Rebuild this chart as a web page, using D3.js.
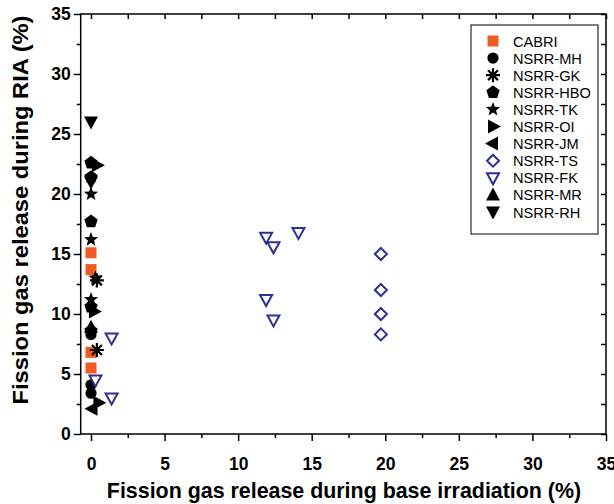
<!DOCTYPE html>
<html>
<head>
<meta charset="utf-8">
<script src="https://cdn.jsdelivr.net/npm/d3@7"></script>
<style>
  body { margin: 0; background: #fff; }
  text { font-family: Arial, "Liberation Sans", sans-serif; }
  .tick text { font-weight: bold; font-size: 17.5px; }
</style>
</head>
<body>
<svg id="chart" width="614" height="504"></svg>
<script>
// data (x = base irradiation FGR %, y = RIA FGR %)
var seriesNames = ["CABRI", "NSRR-MH", "NSRR-GK", "NSRR-HBO", "NSRR-TK", "NSRR-OI",
                   "NSRR-JM", "NSRR-TS", "NSRR-FK", "NSRR-MR", "NSRR-RH"];

var cabri = [[0, 15.1], [0, 13.7], [0, 6.8], [0, 5.5]];
var nsrrMH = [[0, 8.3], [0, 4.1], [0, 3.4]];
var nsrrGK = [[0.4, 12.8], [0.4, 7.0]];
var nsrrHBO = [[0, 22.6], [0, 21.4], [0, 17.7], [0, 10.6], [0, 8.6]];
var nsrrTK = [[0, 20.0], [0, 16.2], [0.3, 13.0], [0, 11.2]];
var nsrrOI = [[0.4, 22.4], [0.2, 10.2], [0.5, 2.6]];
var nsrrJM = [[0.1, 2.1]];
var nsrrTS = [[19.7, 15.0], [19.7, 12.0], [19.7, 10.0], [19.7, 8.3]];
var nsrrFK = [[11.9, 16.4], [12.4, 15.6], [14.1, 16.8], [11.9, 11.2], [12.4, 9.5],
              [1.4, 8.0], [0.3, 4.5], [1.4, 3.0]];
var nsrrMR = [[0, 8.9]];
var nsrrRH = [[0, 26.0], [0, 21.0]];

var majorTicks = [0, 5, 10, 15, 20, 25, 30, 35];
var minorTicks = [2.5, 7.5, 12.5, 17.5, 22.5, 27.5, 32.5];

var orange = "#f15a24";
var blue = "#2e3192";

var svg = d3.select("#chart");
// "top" is taken by window.top, so plot edges get their own names
var plotLeft = 80.7, plotRight = 606, plotTop = 14, plotBottom = 434;

var x = d3.scaleLinear().domain([-0.7, 35]).range([plotLeft, plotRight]);
var y = d3.scaleLinear().domain([0, 35]).range([plotBottom, plotTop]);

// marker outlines, centered on 0,0
function poly(pts) {
    return d3.line()(pts) + "Z";
}
function regular(n, r, rot) {
    var pts = [];
    for (var i = 0; i < n; i++) {
        var a = rot + i * 2 * Math.PI / n;
        pts.push([r * Math.cos(a), r * Math.sin(a)]);
    }
    return poly(pts);
}
function starPath(r1, r2) {
    var pts = [];
    for (var i = 0; i < 10; i++) {
        var a = -Math.PI / 2 + i * Math.PI / 5;
        var r = i % 2 ? r2 : r1;
        pts.push([r * Math.cos(a), r * Math.sin(a)]);
    }
    return poly(pts);
}
function asteriskPath(r) {
    var p = "";
    for (var i = 0; i < 4; i++) {
        var a = i * Math.PI / 4;
        p += "M" + (-r * Math.cos(a)) + "," + (-r * Math.sin(a)) + "L" + (r * Math.cos(a)) + "," + (r * Math.sin(a));
    }
    return p;
}

var markers = {
    "CABRI": { data: cabri, d: poly([[-5.5, -5.5], [5.5, -5.5], [5.5, 5.5], [-5.5, 5.5]]), fill: orange, stroke: "none" },
    "NSRR-MH": { data: nsrrMH, d: d3.symbol(d3.symbolCircle, 100)(), fill: "#000", stroke: "none" },
    "NSRR-GK": { data: nsrrGK, d: asteriskPath(7), fill: "none", stroke: "#000", sw: 2.2 },
    "NSRR-HBO": { data: nsrrHBO, d: regular(5, 7, -Math.PI / 2), fill: "#000", stroke: "none" },
    "NSRR-TK": { data: nsrrTK, d: starPath(7.5, 3.2), fill: "#000", stroke: "none" },
    "NSRR-OI": { data: nsrrOI, d: poly([[-5, -7], [8, 0], [-5, 7]]), fill: "#000", stroke: "none" },
    "NSRR-JM": { data: nsrrJM, d: poly([[5, -7], [-8, 0], [5, 7]]), fill: "#000", stroke: "none" },
    "NSRR-TS": { data: nsrrTS, d: poly([[0, -6], [6, 0], [0, 6], [-6, 0]]), fill: "#fff", stroke: blue, sw: 2 },
    "NSRR-FK": { data: nsrrFK, d: poly([[-6, -4.5], [6, -4.5], [0, 6.5]]), fill: "#fff", stroke: blue, sw: 2 },
    "NSRR-MR": { data: nsrrMR, d: poly([[0, -7.5], [7, 5.5], [-7, 5.5]]), fill: "#000", stroke: "none" },
    "NSRR-RH": { data: nsrrRH, d: poly([[-7, -5.5], [7, -5.5], [0, 7.5]]), fill: "#000", stroke: "none" }
};

// axes: outside ticks bottom/left, inside ticks top/right
function drawAxes() {
    var g = svg.append("g");
    g.append("g").attr("transform", "translate(0," + plotBottom + ")")
        .call(d3.axisBottom(x).tickValues(majorTicks).tickSize(7).tickPadding(17).tickFormat(d3.format("d")));
    g.append("g").attr("transform", "translate(0," + plotBottom + ")")
        .call(d3.axisBottom(x).tickValues(minorTicks).tickSize(4).tickFormat(""));
    g.append("g").attr("transform", "translate(" + plotLeft + ",0)")
        .call(d3.axisLeft(y).tickValues(majorTicks).tickSize(7).tickPadding(3).tickFormat(d3.format("d")));
    g.append("g").attr("transform", "translate(" + plotLeft + ",0)")
        .call(d3.axisLeft(y).tickValues(minorTicks).tickSize(4).tickFormat(""));
    g.append("g").attr("transform", "translate(0," + plotTop + ")")
        .call(d3.axisTop(x).tickValues(majorTicks.concat(minorTicks)).tickSize(-5).tickFormat(""));
    g.append("g").attr("transform", "translate(" + plotRight + ",0)")
        .call(d3.axisRight(y).tickValues(majorTicks.concat(minorTicks)).tickSize(-5).tickFormat(""));
    g.selectAll(".domain").remove();
    g.selectAll(".tick line").attr("stroke", "#000").attr("stroke-width", 1.5);
    g.selectAll(".tick text").attr("fill", "#000");

    svg.append("rect")
        .attr("x", plotLeft).attr("y", plotTop)
        .attr("width", plotRight - plotLeft).attr("height", plotBottom - plotTop)
        .attr("fill", "none").attr("stroke", "#000").attr("stroke-width", 1.5);

    svg.append("text")
        .attr("x", 344).attr("y", 498)
        .attr("text-anchor", "middle")
        .style("font-weight", "bold").style("font-size", "21.4px")
        .text("Fission gas release during base irradiation (%)");
    svg.append("text")
        .attr("transform", "translate(28,210) rotate(-90)")
        .attr("text-anchor", "middle")
        .attr("textLength", 389)
        .attr("lengthAdjust", "spacingAndGlyphs")
        .style("font-weight", "bold").style("font-size", "21.4px")
        .text("Fission gas release during RIA (%)");
}

function drawPoints() {
    seriesNames.forEach(function(name) {
        var m = markers[name];
        svg.append("g").selectAll("path")
            .data(m.data)
            .enter()
            .append("path")
            .attr("d", m.d)
            .attr("transform", function(d) { return "translate(" + x(d[0]) + "," + y(d[1]) + ")"; })
            .attr("fill", m.fill)
            .attr("stroke", m.stroke)
            .attr("stroke-width", m.sw || 0);
    });
}

function drawLegend() {
    var lg = svg.append("g").attr("transform", "translate(471,25)");
    lg.append("rect")
        .attr("width", 127).attr("height", 209)
        .attr("fill", "#fff").attr("stroke", "#000").attr("stroke-width", 1);
    var row = lg.selectAll("g.row")
        .data(seriesNames)
        .enter()
        .append("g")
        .attr("class", "row")
        .attr("transform", function(d, i) { return "translate(0," + (16 + i * 17.1) + ")"; });
    row.append("path")
        .attr("transform", "translate(22,0)")
        .attr("d", function(d) { return markers[d].d; })
        .attr("fill", function(d) { return markers[d].fill; })
        .attr("stroke", function(d) { return markers[d].stroke; })
        .attr("stroke-width", function(d) { return markers[d].sw || 0; });
    row.append("text")
        .attr("x", 42).attr("y", 5.5)
        .style("font-size", "14.6px")
        .text(function(d) { return d; });
}

drawAxes();
drawPoints();
drawLegend();
</script>
</body>
</html>
